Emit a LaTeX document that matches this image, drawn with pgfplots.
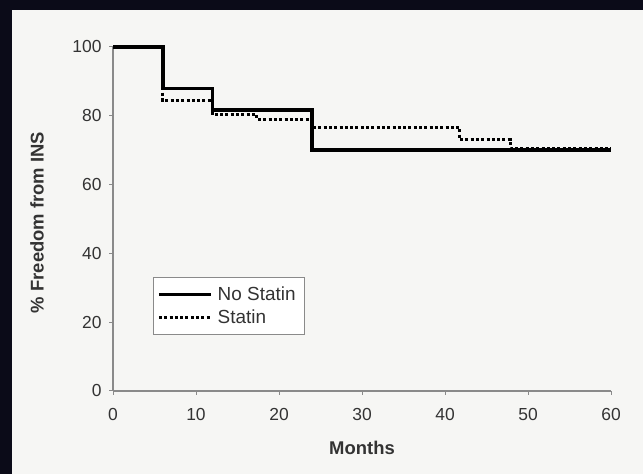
\documentclass[border=0pt]{standalone}
\usepackage{pgfplots}
\pgfplotsset{compat=1.18}
\usepackage{fontspec}
\setmainfont{Liberation Sans}
\definecolor{darkbg}{HTML}{0B0B18}
\definecolor{panel}{HTML}{F6F6F4}
\definecolor{axgray}{HTML}{8A8A8A}
\definecolor{txt}{HTML}{333333}
\begin{document}
\begin{tikzpicture}[x=1bp,y=1bp]
\fill[panel] (0,0) rectangle (643,474);
\fill[darkbg] (0,0) rectangle (12,474);
\fill[darkbg] (0,464) rectangle (643,474);
\begin{axis}[
  at={(113bp,83bp)}, anchor=origin,
  scale only axis, width=498bp, height=344bp,
  xmin=0, xmax=60, ymin=0, ymax=100,
  xtick={0,10,...,60}, ytick={0,20,...,100},
  axis x line*=bottom, axis y line*=left,
  axis line style={axgray, line width=1.2pt, -},
  tick style={axgray, line width=1pt},
  major tick length=4bp, tick align=outside,
  /pgf/number format/assume math mode=true,
  tick label style={font=\fontsize{17.5}{19}\selectfont, text=txt},
  xticklabel style={yshift=-10bp},
  yticklabel style={xshift=-4bp},
  xlabel={\textbf{Months}},
  ylabel={\textbf{\% Freedom from INS}},
  xlabel style={font=\fontsize{18.5}{20}\selectfont, text=txt, at={(axis description cs:0.5,0)}, anchor=center, yshift=-57bp},
  ylabel style={font=\fontsize{18.5}{20}\selectfont, text=txt, at={(axis description cs:0,0.49)}, anchor=center, yshift=76bp},
  clip=false,
  legend style={at={(axis cs:4.8,33)}, anchor=north west, draw=axgray, line width=0.8pt, fill=white,
    font=\fontsize{19}{20}\selectfont, text=txt, inner xsep=4bp, inner ysep=7bp, row sep=4bp,
    nodes={inner xsep=5bp}},
  legend cell align=left,
  legend image code/.code={\draw[#1] (0bp,0bp) -- (52bp,0bp);},
]
\addplot[const plot, black, line width=3.5bp] coordinates {
  (0,100) (6,88) (12,81.7) (24,70) (60,70)
};
\addlegendentry{No Statin}
\addplot[const plot, black, line width=3bp, dash pattern=on 3bp off 2.3bp] coordinates {
  (0,100) (6,84.4) (12,80.3) (17.3,79) (24,76.5) (41.8,73) (47.9,70.5) (60,70.5)
};
\addlegendentry{Statin}
\end{axis}
\pgfresetboundingbox
\path[use as bounding box] (0,0) rectangle (643,474);
\end{tikzpicture}
\end{document}
